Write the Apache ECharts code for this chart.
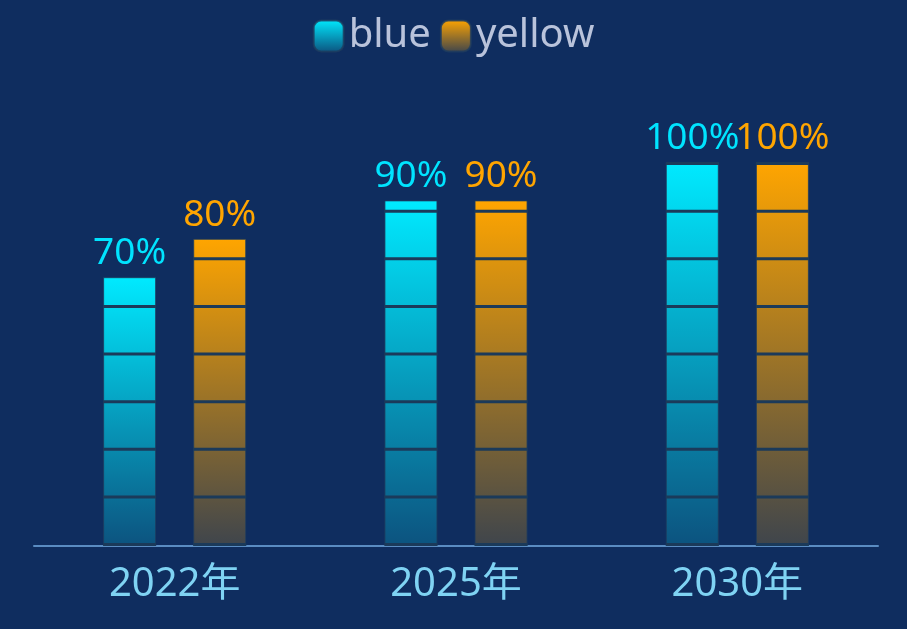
<!DOCTYPE html>
<html>
<head>
<meta charset="utf-8">
<script src="https://cdn.jsdelivr.net/npm/echarts@6/dist/echarts.min.js"></script>
<style>
  html, body { margin: 0; padding: 0; background: #0f2d5f; }
  #chart { width: 907px; height: 629px; }
</style>
</head>
<body>
<div id="chart"></div>
<script>
// data
var years = ['2022年', '2025年', '2030年'];
var blueValues = [70, 90, 100];
var yellowValues = [80, 90, 100];
var seriesNames = ['blue', 'yellow'];

var FONT = "'Noto Sans', 'Noto Sans CJK SC', sans-serif";

function grad(top, bottom) {
  return new echarts.graphic.LinearGradient(0, 0, 0, 1, [
    { offset: 0, color: top },
    { offset: 1, color: bottom }
  ]);
}

var chart = echarts.init(document.getElementById('chart'));

function barSeries(name, values, top, bottom, labelColor) {
  return {
    name: name,
    type: 'bar',
    barWidth: 53,
    barGap: '70%',
    data: values,
    itemStyle: {
      color: grad(top, bottom),
      borderColor: 'rgba(30,60,95,0.8)',
      borderWidth: 1
    },
    label: {
      show: true,
      position: 'top',
      distance: 5,
      formatter: '{c}%',
      color: labelColor,
      fontSize: 37,
      fontFamily: FONT
    },
    z: 2
  };
}

// thin dark rects every 12.5 units, clipped to the bar height
function sepSeries(name, values) {
  return {
    name: name,
    type: 'pictorialBar',
    barWidth: 53,
    barGap: '70%',
    symbol: 'rect',
    symbolSize: ['100%', 3],
    symbolRepeat: 9,
    symbolBoundingData: 100,
    symbolClip: true,
    itemStyle: { color: '#1b3a5a' },
    data: values,
    z: 5,
    silent: true
  };
}

chart.setOption({
  backgroundColor: '#0f2d5f',
  legend: {
    data: seriesNames,
    top: 11,
    left: 'center',
    icon: 'roundRect',
    itemWidth: 30,
    itemHeight: 31,
    itemGap: 9,
    textStyle: { color: '#b9c3db', fontSize: 40, fontFamily: FONT }
  },
  grid: { left: 34, right: 29, top: 162, bottom: 83 },
  xAxis: {
    type: 'category',
    data: years,
    axisLine: { lineStyle: { color: '#5a8cc2', width: 2 } },
    axisTick: { show: false },
    axisLabel: { color: '#7fd3f3', fontSize: 40, margin: 19, fontFamily: FONT }
  },
  yAxis: {
    type: 'value',
    min: 0,
    max: 100,
    show: false
  },
  series: [
    barSeries(seriesNames[0], blueValues, '#00eaff', 'rgba(0,234,255,0.2)', '#00e4ff'),
    barSeries(seriesNames[1], yellowValues, '#ffa500', 'rgba(255,165,0,0.2)', '#ffa500'),
    sepSeries('blueSep', blueValues),
    sepSeries('yellowSep', yellowValues)
  ]
});
</script>
</body>
</html>
